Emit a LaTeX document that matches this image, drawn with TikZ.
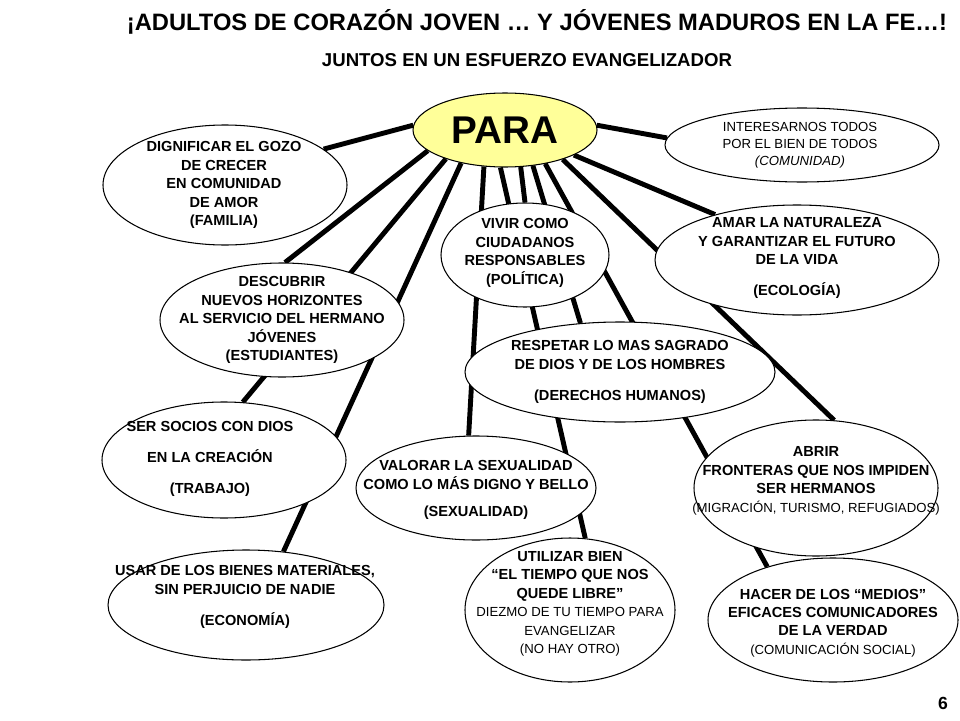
\documentclass[tikz,border=0pt]{standalone}
\usepackage{fontspec}
\setmainfont{Liberation Sans}
\usetikzlibrary{shapes.geometric,backgrounds}
\tikzset{
  oval/.style 2 args={ellipse,draw=black,line width=.6pt,fill=white,inner sep=0pt,
    minimum width={#1*0.02cm},minimum height={#2*0.02cm}},
  txt/.style={align=center,font=\bfseries\fontsize{8.3}{10.5}\selectfont},
  spoke/.style={line width=2.8pt,black},
}
\newcommand{\sm}{\mdseries\fontsize{7.5}{9.6}\selectfont}
\begin{document}
\begin{tikzpicture}[x={(0.02cm,0)},y={(0,-0.02cm)}]
 \definecolor{pa}{RGB}{255,255,153}
 \useasboundingbox (0,0) rectangle (960,720);
 \node[font=\bfseries\fontsize{13.5}{15}\selectfont] (title) at (537,22)
   {¡ADULTOS DE CORAZÓN JOVEN … Y JÓVENES MADUROS EN LA FE…!};
 \node[font=\bfseries\fontsize{10.6}{12}\selectfont] (sub) at (527,60)
   {JUNTOS EN UN ESFUERZO EVANGELIZADOR};
 \node[oval={184}{74},fill=pa,font=\bfseries\fontsize{22}{24}\selectfont] (para) at (505,130) {PARA};
 % ovals
 \node[oval={244}{120}] (dign) at (225,185) {};
 \node[txt] at (224,185) {DIGNIFICAR EL GOZO\\DE CRECER\\EN COMUNIDAD\\DE AMOR\\(FAMILIA)};
 \node[oval={274}{74}] (inter) at (802,145) {};
 \node[txt,font=\sm] at (800,145) {INTERESARNOS TODOS\\POR EL BIEN DE TODOS\\\textit{(COMUNIDAD)}};
 \node[oval={168}{104}] (vivir) at (525,255) {};
 \node[txt] at (525,253) {VIVIR COMO\\CIUDADANOS\\RESPONSABLES\\(POLÍTICA)};
 \node[oval={284}{110}] (amar) at (797,260) {};
 \node[txt] at (797,258) {AMAR LA NATURALEZA\\Y GARANTIZAR EL FUTURO\\DE LA VIDA\\[7pt](ECOLOGÍA)};
 \node[oval={244}{114}] (desc) at (282,320) {};
 \node[txt] at (282,320) {DESCUBRIR\\NUEVOS HORIZONTES\\AL SERVICIO DEL HERMANO\\JÓVENES\\(ESTUDIANTES)};
 \node[oval={310}{100}] (resp) at (620,372) {};
 \node[txt] at (620,372) {RESPETAR LO MAS SAGRADO\\DE DIOS Y DE LOS HOMBRES\\[7pt](DERECHOS HUMANOS)};
 \node[oval={244}{116}] (socios) at (224,460) {};
 \node[txt] at (210,459) {SER SOCIOS CON DIOS\\[7pt]EN LA CREACIÓN\\[7pt](TRABAJO)};
 \node[oval={240}{104}] (valor) at (476,488) {};
 \node[txt] at (476,490) {VALORAR LA SEXUALIDAD\\COMO LO MÁS DIGNO Y BELLO\\[5pt](SEXUALIDAD)};
 \node[oval={244}{136}] (abrir) at (816,488) {};
 \node[txt] at (816,481) {ABRIR\\FRONTERAS QUE NOS IMPIDEN\\SER HERMANOS\\{\sm(MIGRACIÓN, TURISMO, REFUGIADOS)}};
 \node[oval={276}{110}] (usar) at (246,605) {};
 \node[txt] at (245,597) {USAR DE LOS BIENES MATERIALES,\\SIN PERJUICIO DE NADIE\\[7pt](ECONOMÍA)};
 \node[oval={210}{144}] (util) at (570,610) {};
 \node[txt] at (570,604) {UTILIZAR BIEN\\“EL TIEMPO QUE NOS\\QUEDE LIBRE”\\{\sm DIEZMO DE TU TIEMPO PARA}\\{\sm EVANGELIZAR}\\{\sm(NO HAY OTRO)}};
 \node[oval={250}{124}] (hacer) at (833,620) {};
 \node[txt] at (833,623) {HACER DE LOS “MEDIOS”\\EFICACES COMUNICADORES\\DE LA VERDAD\\{\sm(COMUNICACIÓN SOCIAL)}};
 \node[font=\bfseries\fontsize{10}{12}\selectfont] (page) at (943,703) {6};
 % spokes
 \begin{pgfonlayer}{background}
  \foreach \a/\n/\b in {177/dign/20, 3/inter/177, 195/desc/87,
    206/socios/72, 217/usar/55, 240/valor/98, 263/util/78,
    293/vivir/90, 308/resp/129, 320/hacer/141, 333/abrir/75, 340/amar/151}
   \draw[spoke] (para.\a) -- (\n.\b);
 \end{pgfonlayer}
\end{tikzpicture}
\end{document}
